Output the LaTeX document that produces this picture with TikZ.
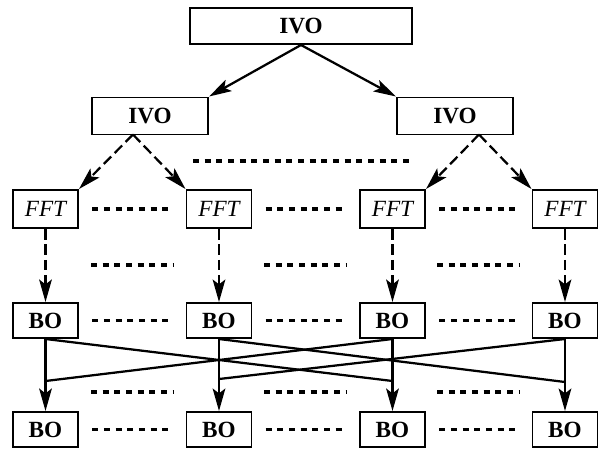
\documentclass[tikz,border=0pt]{standalone}
\usepackage{fontspec}
\setmainfont{Liberation Serif}
\usetikzlibrary{arrows.meta}

\begin{document}
\begin{tikzpicture}[x=0.025cm, y=-0.025cm,
        box/.style={draw, line width=1.4pt, inner sep=0pt, font=\fontsize{16.5}{19}\selectfont\bfseries},
        ivobox/.style={box, minimum width=2.9cm, minimum height=0.925cm},
        fftbox/.style={box, minimum width=1.625cm, minimum height=0.95cm, font=\fontsize{16.5}{19}\selectfont\itshape},
        bobox/.style={box, minimum width=1.625cm, minimum height=0.875cm},
        arr/.style={->, >={Stealth[length=16pt, width=9pt, inset=3.5pt]}, line width=1.6pt},
        darr/.style={arr, dash pattern=on 7.5pt off 3.5pt},
        link/.style={line width=1.6pt},
        dots/.style={line width=2.5pt, dash pattern=on 4.3pt off 4pt},
        rowdots/.style={dots, shorten <=0.33cm, shorten >=0.33cm}]
        \useasboundingbox (0,0) rectangle (600,450);

        \node[box, minimum width=5.55cm, minimum height=0.9cm] (ivo) at (301,26) {IVO};
        \node[ivobox] (ivol) at (150,116) {IVO};
        \node[ivobox] (ivor) at (455,116) {IVO};

        \node[fftbox] (f1) at (45.5,209) {FFT};
        \node[fftbox] (f2) at (219,209) {FFT};
        \node[fftbox] (f3) at (392.5,209) {FFT};
        \node[fftbox] (f4) at (565,209) {FFT};

        \node[bobox] (b1) at (45.5,320.5) {BO};
        \node[bobox] (b2) at (219,320.5) {BO};
        \node[bobox] (b3) at (392.5,320.5) {BO};
        \node[bobox] (b4) at (565,320.5) {BO};

        \node[bobox] (c1) at (45.5,429.5) {BO};
        \node[bobox] (c2) at (219,429.5) {BO};
        \node[bobox] (c3) at (392.5,429.5) {BO};
        \node[bobox] (c4) at (565,429.5) {BO};

        \draw[arr] (ivo.south) -- (ivol.north east);
        \draw[arr] (ivo.south) -- (ivor.north west);

        \coordinate (ivol-b) at (133,134.5);
        \coordinate (ivor-b) at (479,134.5);
        \draw[darr] (ivol-b) -- (f1.north east);
        \draw[darr] (ivol-b) -- (f2.north west);
        \draw[darr] (ivor-b) -- (f3.north east);
        \draw[darr] (ivor-b) -- (f4.north west);

        \draw[darr] (f1) -- (b1);
        \draw[darr] (f2) -- (b2);
        \draw[darr] (f3) -- (b3);
        \draw[darr] (f4) -- (b4);

        \coordinate (j1) at (45.5,381);
        \coordinate (j2) at (219,379);
        \coordinate (j3) at (392.5,381);
        \coordinate (j4) at (565,382);
        \draw[link] (b1.south) -- (j3);
        \draw[link] (b2.south) -- (j4);
        \draw[link] (b3.south) -- (j1);
        \draw[link] (b4.south) -- (j2);
        \draw[arr] (b1) -- (c1);
        \draw[arr] (b2) -- (c2);
        \draw[arr] (b3) -- (c3);
        \draw[arr] (b4) -- (c4);

        % dotted lines
        \draw[dots] (193,161) -- (412,161);
        \draw[rowdots] (f1) -- (f2);
        \draw[rowdots] (f2) -- (f3);
        \draw[rowdots] (f3) -- (f4);
        \draw[dots] (91,265) -- (173,265);
        \draw[dots] (264,265) -- (346,265);
        \draw[dots] (437,265) -- (520,265);
        \draw[rowdots] (b1) -- (b2);
        \draw[rowdots] (b2) -- (b3);
        \draw[rowdots] (b3) -- (b4);
        \draw[dots] (91,392) -- (173,392);
        \draw[dots] (264,392) -- (346,392);
        \draw[dots] (437,392) -- (520,392);
        \draw[rowdots] (c1) -- (c2);
        \draw[rowdots] (c2) -- (c3);
        \draw[rowdots] (c3) -- (c4);
    \end{tikzpicture}
\end{document}
